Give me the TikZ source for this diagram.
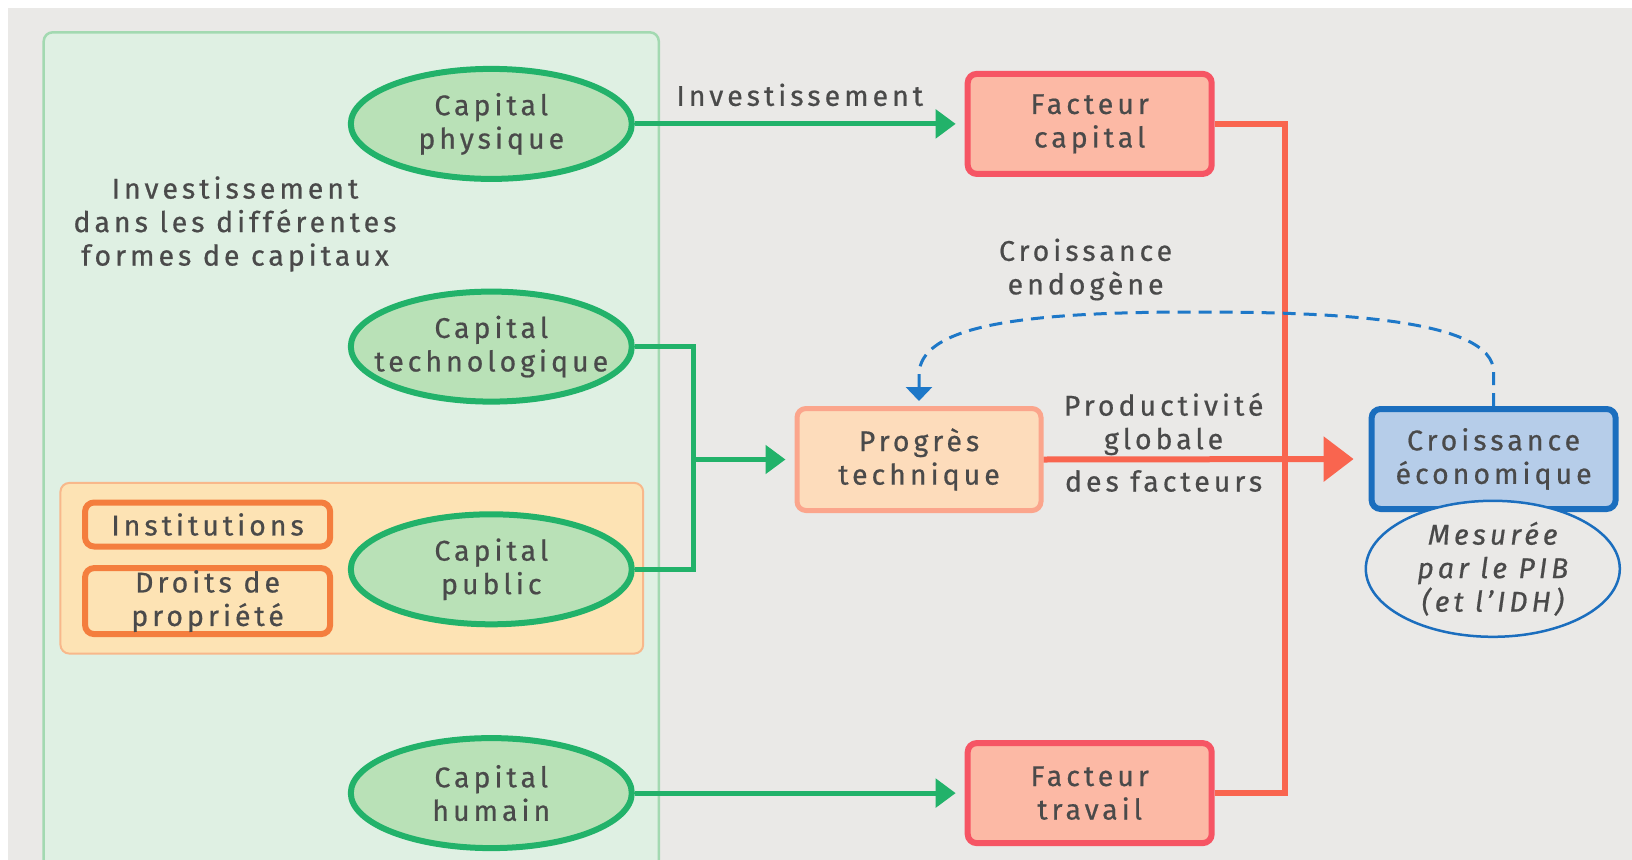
\documentclass[tikz,border=0pt]{standalone}
\usepackage{fontspec}
\setmainfont{Fira Sans}[LetterSpace=14, FakeBold=0.6]
\usetikzlibrary{arrows.meta,shapes.geometric}
\definecolor{bgc}{HTML}{EAE9E7}
\definecolor{gpanel}{HTML}{DFF0E3}
\definecolor{gpanelb}{HTML}{A3D9B1}
\definecolor{gfill}{HTML}{B9E1B7}
\definecolor{gline}{HTML}{22B26A}
\definecolor{opanel}{HTML}{FDE3B4}
\definecolor{opanelb}{HTML}{F8B88B}
\definecolor{oline}{HTML}{F47E3E}
\definecolor{ffill}{HTML}{FCB9A5}
\definecolor{fline}{HTML}{F65564}
\definecolor{pfill}{HTML}{FDDCBB}
\definecolor{pline}{HTML}{FBA58C}
\definecolor{rline}{HTML}{F9654F}
\definecolor{bfill}{HTML}{B6CDE9}
\definecolor{bline}{HTML}{1B6EBE}
\definecolor{bdash}{HTML}{1E78C8}
\definecolor{txt}{HTML}{4A4A4A}
\tikzset{
  every node/.style={text=txt, font=\fontsize{28.5}{33.5}\selectfont, align=center},
  capell/.style={ellipse, draw=gline, fill=gfill, line width=6pt, minimum width=281pt, minimum height=110pt, inner xsep=-40pt, inner ysep=0pt},
  facbox/.style={draw=fline, fill=ffill, line width=6pt, rounded corners=9pt, minimum width=244pt, minimum height=100pt, inner sep=0pt},
  progbox/.style={draw=pline, fill=pfill, line width=5pt, rounded corners=9pt, minimum width=244pt, minimum height=102pt, inner sep=0pt},
  croisbox/.style={draw=bline, fill=bfill, line width=6pt, rounded corners=9pt, minimum width=244pt, minimum height=100pt, inner sep=0pt},
  instbox/.style={draw=oline, fill=opanel, line width=6pt, rounded corners=9pt, minimum width=245pt, inner sep=0pt},
  gconn/.style={draw=gline, line width=5pt},
  garrow/.style={gconn, -{Triangle[length=20pt,width=28pt]}, shorten >=9pt},
  rconn/.style={draw=rline, line width=6pt},
  rarrow/.style={rconn, -{Triangle[length=30pt,width=44pt]}, shorten >=15pt},
  bdashed/.style={draw=bdash, line width=3pt, dash pattern=on 13pt off 8pt, -{Triangle[length=14pt,width=26pt]}, shorten >=5pt},
  lbl/.style={inner sep=0pt}
}
\begin{document}
\begin{tikzpicture}[x=1pt,y=-1pt]
\useasboundingbox (0,0) rectangle (1632,859);
\clip (0,0) rectangle (1632,859);
\fill[white] (0,0) rectangle (1632,859);
\fill[bgc] (8.3,8.3) rectangle (1640,870);
% left panels
\draw[draw=gpanelb, fill=gpanel, line width=2.5pt, rounded corners=9pt] (43.7,32.3) rectangle (658.8,900);
\draw[draw=opanelb, fill=opanel, line width=2pt, rounded corners=9pt] (60.4,482.9) rectangle (643.2,653.6);
\node[lbl] (lab) at (235,224) {Investissement\\dans les différentes\\formes de capitaux};
% ellipses
\node[capell] (cp) at (491.3,123.9) {Capital\\physique};
\node[capell] (ct) at (491.3,346.6) {Capital\\technologique};
\node[capell] (cpub) at (491.3,569.3) {Capital\\public};
\node[capell] (ch) at (491.3,793.1) {Capital\\humain};
\node[instbox, minimum height=44pt] (inst) at (207.6,524.5) {Institutions};
\node[instbox, minimum height=66pt] (droit) at (207.6,601.1) {Droits de\\propriété};
% right boxes
\node[facbox] (fcap) at (1089.7,123.9) {Facteur\\capital};
\node[facbox] (ftrav) at (1089.7,793.1) {Facteur\\travail};
\node[progbox] (pt) at (919,459.5) {Progrès\\technique};
\node[croisbox] (ce) at (1493.6,459) {Croissance\\économique};
\node[ellipse, draw=bline, fill=bgc, line width=2.5pt, minimum width=254pt, minimum height=136pt, inner sep=0pt] (mes) at (1492.8,568.8) {\itshape Mesurée\\\itshape par le PIB\\\itshape (et l’IDH)};
% green connectors
\coordinate (jt) at (693.2,459.5);
\draw[garrow] (cp.east) -- (fcap.west) node[lbl, pos=0.5, yshift=29pt] (inv) {Investissement};
\draw[garrow] (ch.east) -- (ftrav.west);
\draw[gconn] (ct.east) -| (jt) |- (cpub.east);
\draw[garrow] (jt) -- (pt.west);
% red connectors
\coordinate (rj) at (1285.4,459.5);
\draw[rconn] (fcap.east) -| (rj);
\draw[rconn] (ftrav.east) -| (rj);
\draw[rarrow] (pt.east) -- (ce.west);
\node[lbl] (prod) at (1163.6,424) {Productivité\\globale};
\node[lbl] (desf) at (1163.6,481) {des facteurs};
% blue dashed feedback
\draw[bdashed] (ce.north) -- (1493.6,372) .. controls (1493.6,318) and (1330,312) .. (1195,312) .. controls (1020,312) and (919,326) .. (919,375) -- (pt.north);
\node[lbl] (endo) at (1085.6,269.5) {Croissance\\endogène};
\end{tikzpicture}
\end{document}
